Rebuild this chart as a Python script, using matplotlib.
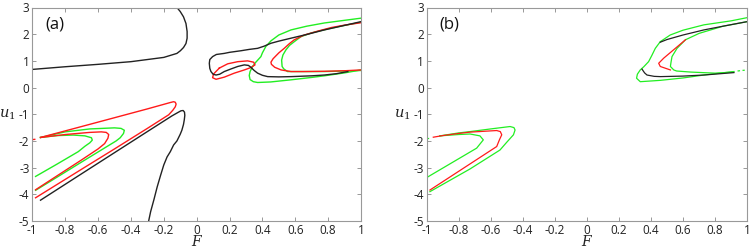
import matplotlib
matplotlib.use("Agg")
import matplotlib.pyplot as plt

plt.rcParams['font.family'] = ['Open Sans', 'DejaVu Sans']
plt.rcParams['axes.unicode_minus'] = False
plt.rcParams['mathtext.fontset'] = 'dejavuserif'

BLACK = '#222222'
RED = '#ff1a1a'
GREEN = '#22ee22'

# ---------------- panel (a) ----------------
a_black_up_F = [-1.0, -0.8, -0.6, -0.4, -0.2, -0.12, -0.099, -0.08, -0.065, -0.058, -0.058, -0.065, -0.08, -0.1, -0.12]
a_black_up_u = [0.68, 0.78, 0.87, 0.97, 1.13, 1.28, 1.38, 1.5, 1.65, 1.85, 2.1, 2.4, 2.65, 2.85, 3.0]

a_black_lo_F = [-0.95, -0.7, -0.5, -0.3, -0.15, -0.11, -0.095, -0.082, -0.074, -0.072, -0.075, -0.08, -0.09, -0.1, -0.12,
                -0.14, -0.16, -0.18, -0.2, -0.22, -0.24, -0.26, -0.28, -0.292]
a_black_lo_u = [-4.22, -3.23, -2.44, -1.65, -1.06, -0.92, -0.87, -0.86, -0.92, -1.04, -1.2, -1.38, -1.6, -1.75, -2.0,
                -2.15, -2.4, -2.6, -2.9, -3.3, -3.72, -4.2, -4.65, -5.0]

a_red_out_F = [-0.95, -0.7, -0.5, -0.3, -0.16, -0.14, -0.13, -0.125, -0.13, -0.145, -0.17, -0.3, -0.5, -0.7, -0.98]
a_red_out_u = [-1.87, -1.46, -1.13, -0.8, -0.56, -0.53, -0.55, -0.62, -0.72, -0.85, -1.02, -1.53, -2.3, -3.06, -4.13]

a_red_in_F = [-0.95, -0.8, -0.65, -0.58, -0.55, -0.535, -0.54, -0.56, -0.6, -0.7, -0.85, -0.98]
a_red_in_u = [-1.87, -1.76, -1.68, -1.66, -1.68, -1.76, -1.9, -2.1, -2.3, -2.71, -3.31, -3.83]

a_red_dash_F = [-1.0, -0.985]
a_red_dash_u = [-1.95, -1.94]

a_green_out_F = [-0.95, -0.8, -0.65, -0.5, -0.46, -0.44, -0.445, -0.465, -0.49, -0.7, -0.85, -0.98]
a_green_out_u = [-1.87, -1.66, -1.55, -1.51, -1.53, -1.6, -1.72, -1.88, -2.0, -2.79, -3.36, -3.85]

a_green_in_F = [-0.95, -0.85, -0.75, -0.68, -0.64, -0.635, -0.65, -0.68, -0.72, -0.85, -0.98]
a_green_in_u = [-1.87, -1.8, -1.78, -1.81, -1.88, -1.97, -2.07, -2.2, -2.4, -2.87, -3.33]

a_black_ur_F = [1.0, 0.9, 0.777, 0.67, 0.574, 0.5, 0.452, 0.41, 0.371, 0.32, 0.27, 0.2, 0.168, 0.12, 0.097, 0.08, 0.077,
                0.08, 0.087, 0.1, 0.118, 0.14, 0.168, 0.21, 0.25, 0.29, 0.315, 0.33, 0.35, 0.371, 0.4, 0.432, 0.5,
                0.574, 0.7, 0.777, 0.85, 0.92]
a_black_ur_u = [2.47, 2.33, 2.16, 1.99, 1.85, 1.74, 1.66, 1.55, 1.47, 1.43, 1.38, 1.32, 1.28, 1.24, 1.16, 1.05, 0.91,
                0.72, 0.6, 0.5, 0.47, 0.5, 0.6, 0.7, 0.79, 0.85, 0.83, 0.76, 0.64, 0.54, 0.46, 0.41, 0.4,
                0.41, 0.44, 0.47, 0.52, 0.6]

a_red_loop_F = [0.138, 0.189, 0.25, 0.31, 0.347, 0.355, 0.33, 0.29, 0.229, 0.168, 0.118, 0.097, 0.103, 0.138]
a_red_loop_u = [0.73, 0.89, 0.97, 1.0, 0.95, 0.85, 0.75, 0.66, 0.54, 0.39, 0.31, 0.37, 0.51, 0.73]

a_red_ur_F = [1.0, 0.9, 0.777, 0.65, 0.574, 0.514, 0.475, 0.455, 0.452, 0.465, 0.5, 0.533, 0.565, 0.594, 0.655, 0.74,
              0.82, 0.9, 1.0]
a_red_ur_u = [0.66, 0.63, 0.61, 0.6, 0.6, 0.66, 0.76, 0.87, 0.95, 1.08, 1.3, 1.47, 1.65, 1.79, 1.97, 2.12,
              2.25, 2.34, 2.43]

a_green_ur_out_F = [1.0, 0.9, 0.777, 0.67, 0.574, 0.5, 0.452, 0.421, 0.4, 0.391, 0.36, 0.34, 0.325, 0.32, 0.325, 0.345,
                    0.371, 0.45, 0.574, 0.7, 0.777, 0.9, 1.0]
a_green_ur_out_u = [2.6, 2.52, 2.42, 2.3, 2.16, 1.97, 1.75, 1.54, 1.3, 1.16, 0.95, 0.79, 0.6, 0.45, 0.3, 0.22,
                    0.19, 0.21, 0.29, 0.38, 0.44, 0.55, 0.66]

a_green_ur_in_F = [1.0, 0.9, 0.777, 0.65, 0.553, 0.53, 0.52, 0.517, 0.525, 0.543, 0.565, 0.594, 0.635, 0.7, 0.8, 0.9, 1.0]
a_green_ur_in_u = [0.64, 0.62, 0.6, 0.6, 0.6, 0.7, 0.79, 1.03, 1.22, 1.41, 1.58, 1.72, 1.91, 2.05, 2.2, 2.33, 2.45]

# ---------------- panel (b) ----------------
b_green_ur_out_F = [1.0, 0.9, 0.73, 0.6, 0.52, 0.458, 0.427, 0.405, 0.385, 0.355, 0.333, 0.315, 0.31, 0.333, 0.458,
                    0.6, 0.73, 0.917]
b_green_ur_out_u = [2.62, 2.5, 2.35, 2.15, 1.97, 1.72, 1.47, 1.2, 0.97, 0.78, 0.66, 0.5, 0.35, 0.22, 0.27,
                    0.36, 0.47, 0.6]
b_green_dash_F = [0.94, 0.96, 0.975, 0.985]
b_green_dash_u = [0.62, 0.635, 0.645, 0.65]

b_green_ur_in_F = [0.917, 0.8, 0.65, 0.56, 0.542, 0.521, 0.525, 0.531, 0.5625, 0.615, 0.7, 0.85, 1.0]
b_green_ur_in_u = [0.58, 0.54, 0.58, 0.62, 0.66, 0.79, 0.95, 1.16, 1.47, 1.79, 2.03, 2.3, 2.47]

b_black_ur_top_F = [1.0, 0.85, 0.73, 0.6, 0.5, 0.458]
b_black_ur_top_u = [2.47, 2.3, 2.16, 1.97, 1.8, 1.7]
b_black_ur_lo_F = [0.344, 0.36, 0.375, 0.42, 0.458, 0.6, 0.73, 0.917]
b_black_ur_lo_u = [0.69, 0.55, 0.47, 0.42, 0.41, 0.43, 0.47, 0.56]

b_red_ur_F = [0.615, 0.552, 0.479, 0.448, 0.458, 0.521]
b_red_ur_u = [1.79, 1.47, 1.1, 0.91, 0.79, 0.66]

b_green_ll_out_F = [-0.917, -0.8, -0.729, -0.6, -0.479, -0.455, -0.448, -0.458, -0.5, -0.542, -0.729, -0.979]
b_green_ll_out_u = [-1.81, -1.7, -1.65, -1.55, -1.46, -1.5, -1.59, -1.77, -2.05, -2.34, -3.05, -3.9]

b_red_ll_F = [-0.958, -0.9, -0.8, -0.729, -0.5625, -0.54, -0.531, -0.545, -0.5625, -0.979]
b_red_ll_u = [-1.86, -1.8, -1.72, -1.67, -1.61, -1.65, -1.77, -1.95, -2.21, -3.84]

b_green_ll_in_F = [-0.917, -0.8, -0.729, -0.667, -0.646, -0.6875, -0.99]
b_green_ll_in_u = [-1.81, -1.76, -1.74, -1.81, -1.96, -2.27, -3.34]

b_green_ll_dash_F = [-1.0, -0.99]
b_green_ll_dash_u = [-1.9, -1.9]

x_ticks = [-1, -0.8, -0.6, -0.4, -0.2, 0, 0.2, 0.4, 0.6, 0.8, 1]
x_ticklabels = ['-1', '-0.8', '-0.6', '-0.4', '-0.2', '0', '0.2', '0.4', '0.6', '0.8', '1']
y_ticks = [-5, -4, -3, -2, -1, 0, 1, 2, 3]
y_ticklabels = ['-5', '-4', '-3', '-2', '-1', '0', '1', '2', '3']

fig = plt.figure(figsize=(7.51, 2.5), dpi=100)
axA = fig.add_axes([0.043, 0.116, 0.4377, 0.854])
axB = fig.add_axes([0.568, 0.116, 0.4269, 0.854])

lw = 1.0
# panel a
axA.plot(a_green_in_F, a_green_in_u, color=GREEN, lw=lw)
axA.plot(a_green_out_F, a_green_out_u, color=GREEN, lw=lw)
axA.plot(a_red_in_F, a_red_in_u, color=RED, lw=lw)
axA.plot(a_red_out_F, a_red_out_u, color=RED, lw=lw)
axA.plot(a_red_dash_F, a_red_dash_u, color=RED, lw=lw)
axA.plot(a_black_up_F, a_black_up_u, color=BLACK, lw=lw)
axA.plot(a_black_lo_F, a_black_lo_u, color=BLACK, lw=lw)
axA.plot(a_green_ur_out_F, a_green_ur_out_u, color=GREEN, lw=lw)
axA.plot(a_green_ur_in_F, a_green_ur_in_u, color=GREEN, lw=lw)
axA.plot(a_red_ur_F, a_red_ur_u, color=RED, lw=lw)
axA.plot(a_red_loop_F, a_red_loop_u, color=RED, lw=lw)
axA.plot(a_black_ur_F, a_black_ur_u, color=BLACK, lw=lw)

# panel b
lwb = 0.9
axB.plot(b_green_ur_out_F, b_green_ur_out_u, color=GREEN, lw=lwb)
axB.plot(b_green_dash_F, b_green_dash_u, color=GREEN, lw=lwb, ls=(0, (2, 2)))
axB.plot(b_green_ur_in_F, b_green_ur_in_u, color=GREEN, lw=lwb)
axB.plot(b_red_ur_F, b_red_ur_u, color=RED, lw=lwb)
axB.plot(b_black_ur_top_F, b_black_ur_top_u, color=BLACK, lw=lwb)
axB.plot(b_black_ur_lo_F, b_black_ur_lo_u, color=BLACK, lw=lwb)
axB.plot(b_green_ll_out_F, b_green_ll_out_u, color=GREEN, lw=lwb)
axB.plot(b_green_ll_in_F, b_green_ll_in_u, color=GREEN, lw=lwb)
axB.plot(b_red_ll_F, b_red_ll_u, color=RED, lw=lwb)
axB.plot(b_green_ll_dash_F, b_green_ll_dash_u, color=GREEN, lw=lwb)

for ax, lab in [(axA, '(a)'), (axB, '(b)')]:
    ax.set_xlim(-1, 1)
    ax.set_ylim(-5, 3)
    ax.set_xticks(x_ticks)
    ax.set_xticklabels(x_ticklabels)
    ax.set_yticks(y_ticks)
    ax.set_yticklabels(y_ticklabels)
    ax.tick_params(direction='in', length=3, width=0.6, color='#888888', labelsize=8.5,
                   labelcolor='#222222', top=True, right=True, pad=2)
    for s in ax.spines.values():
        s.set_color('#999999')
        s.set_linewidth(0.8)
    ax.set_xlabel('$F$', fontsize=10, labelpad=-1, color='#222222')
    ax.set_ylabel('$u_1$', fontsize=10.5, rotation=0, ha='right', va='center', color='#222222')
    ax.yaxis.set_label_coords(-0.05, 0.5)
    ax.text(0.04, 0.92, lab, transform=ax.transAxes, fontsize=12, va='center', ha='left', color='#111111')

fig.savefig('out.png', dpi=100)
